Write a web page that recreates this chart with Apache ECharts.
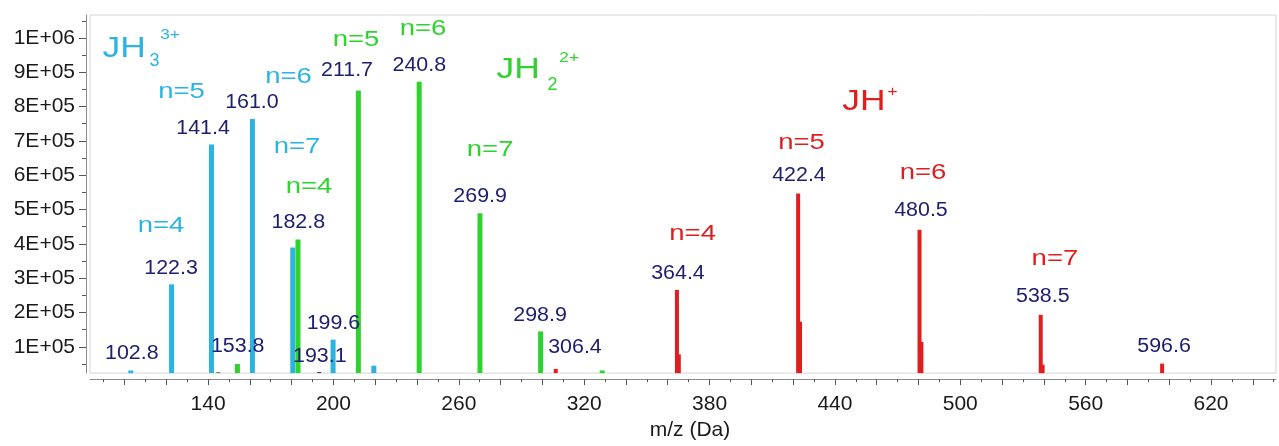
<!DOCTYPE html>
<html><head><meta charset="utf-8">
<script src="https://cdn.jsdelivr.net/npm/echarts@6/dist/echarts.min.js"></script>
<style>html,body{margin:0;padding:0;background:#fff}#c{width:1279px;height:446px}</style>
</head><body><div id="c"></div>
<script>
// ---------- DATA ----------
const jh3Mz  = [102.8, 122.3, 141.4, 161.0, 180.3, 199.6, 219.1];
const jh3Int = [31000, 282000, 689500, 763400, 389200, 120800, 45000];
const jh2Mz  = [153.8, 182.8, 211.7, 240.8, 269.9, 298.9, 328.4];
const jh2Int = [49800, 412800, 847000, 872600, 488800, 144700, 31000];
const jhMz   = [306.4, 364.4, 422.4, 480.5, 538.5, 596.6];
const jhInt  = [35500, 265800, 546500, 441300, 193000, 51000];
const jhIsoMz  = [365.3, 423.3, 481.4, 539.4];
const jhIsoInt = [78000, 173000, 114000, 48000];
const otherMz  = [144.9, 193.2];
const otherInt = [25500, 26500];

const xTickLabels = [140, 200, 260, 320, 380, 440, 500, 560, 620];
const yTickLabels = [100000, 200000, 300000, 400000, 500000, 600000, 700000, 800000, 900000, 1000000];

// peak m/z labels: [m/z, label centre m/z, label centre intensity]
const peakLabels = [
  [102.8, 103.5, 81600], [122.3, 122.3, 327500], [141.4, 137.6, 737000],
  [161.0, 161.0, 812300], [182.8, 183.2, 462600], [153.8, 154.2, 100100],
  [193.1, 193.5, 71700], [199.6, 200.0, 166900], [211.7, 206.5, 906200],
  [240.8, 241.1, 919800], [269.9, 270.2, 538800], [298.9, 298.9, 192500],
  [306.4, 315.6, 98700], [364.4, 364.9, 313300], [422.4, 422.8, 597700],
  [480.5, 481.2, 498100], [538.5, 539.5, 246500], [596.6, 597.5, 100100]
];
// charge-state labels: [text, series, m/z, intensity]
const nLabels = [
  ['n=4', 'b', 117.5, 452700], ['n=5', 'b', 127.3, 843600], ['n=6', 'b', 178.5, 887700], ['n=7', 'b', 182.6, 683000],
  ['n=4', 'g', 188.3, 566400], ['n=5', 'g', 210.8, 992900], ['n=6', 'g', 242.9, 1025600], ['n=7', 'g', 275.0, 674400],
  ['n=4', 'r', 371.9, 429900], ['n=5', 'r', 424.0, 692900], ['n=6', 'r', 482.2, 607600], ['n=7', 'r', 545.3, 356000]
];
// species labels: [text, series, part, m/z, intensity]
const speciesLabels = [
  ['JH', 'b', 'main', 99.8, 967800], ['3', 'b', 'sub', 114.4, 933000], ['3+', 'b', 'sup', 121.8, 1008000],
  ['JH', 'g', 'main', 288.4, 907600], ['2', 'g', 'sub', 304.9, 862000], ['2+', 'g', 'sup', 312.8, 941600],
  ['JH', 'r', 'main', 453.9, 813800], ['+', 'r', 'sup', 467.6, 842000]
];

// ---------- STYLE ----------
const C = { b: '#2bb4e2', g: '#2ed32e', r: '#e01e1e', navy: '#1f2170', txt: '#1a1a1a', axis: '#8c8c8c' };
const FONT = '"Liberation Sans", Arial, sans-serif';
const X_MIN = 83.5, X_MAX = 651.1, Y_MIN = 23300, Y_MAX = 1066800;

const majorX = [], minorX = [], majorY = [], minorY = [];
for (let v = 100; v <= 640; v += 20) majorX.push(v);
for (let v = 90; v <= 650; v += 20) minorX.push(v);
for (let v = 100000; v <= 1000000; v += 100000) majorY.push(v);
for (let v = 50000; v <= 1050000; v += 100000) minorY.push(v);

const zip = (a, b) => a.map((v, i) => [v, b[i]]);
const barSeries = (data, color, w) => ({
  type: 'bar', data, barWidth: w, barGap: '-100%', itemStyle: { color },
  xAxisIndex: 0, yAxisIndex: 0, silent: true, animation: false
});

const chart = echarts.init(document.getElementById('c'), null, { renderer: 'canvas' });
chart.setOption({
  animation: false,
  grid: { left: 90, right: 3, top: 15, bottom: 64, show: true, borderColor: '#d6d6d6', borderWidth: 1, containLabel: false },
  xAxis: [{
    type: 'value', min: X_MIN, max: X_MAX, position: 'bottom', offset: 6,
    axisLine: { show: true, lineStyle: { color: C.axis, width: 1 } },
    axisTick: { show: true, customValues: majorX, length: 6, lineStyle: { color: '#555' } },
    axisLabel: { customValues: xTickLabels, margin: 15, fontSize: 21, fontFamily: FONT, color: C.txt },
    splitLine: { show: false },
    name: 'm/z (Da)', nameLocation: 'middle', nameGap: 38,
    nameTextStyle: { fontSize: 21, fontFamily: FONT, color: C.txt, padding: [0, 0, 0, 14] }
  }, {
    type: 'value', min: X_MIN, max: X_MAX, position: 'bottom', offset: 6,
    axisLine: { show: false },
    axisTick: { show: true, customValues: minorX, length: 3, lineStyle: { color: '#555' } },
    axisLabel: { show: false }, splitLine: { show: false }
  }],
  yAxis: [{
    type: 'value', min: Y_MIN, max: Y_MAX, position: 'left', offset: 4,
    axisLine: { show: true, lineStyle: { color: C.axis, width: 1 } },
    axisTick: { show: true, customValues: majorY, length: 7, lineStyle: { color: '#555' } },
    axisLabel: {
      customValues: yTickLabels, margin: 11, fontSize: 21, fontFamily: FONT, color: C.txt,
      formatter: v => v >= 1000000 ? (v / 1000000) + 'E+06' : Math.round(v / 100000) + 'E+05'
    },
    splitLine: { show: false }
  }, {
    type: 'value', min: Y_MIN, max: Y_MAX, position: 'left', offset: 4,
    axisLine: { show: false },
    axisTick: { show: true, customValues: minorY, length: 4, lineStyle: { color: '#555' } },
    axisLabel: { show: false }, splitLine: { show: false }
  }],
  series: [
    barSeries(zip(jh3Mz, jh3Int), C.b, 5),
    barSeries(zip(jh2Mz, jh2Int), C.g, 5),
    barSeries(zip(jhMz, jhInt), C.r, 4),
    barSeries(zip(jhIsoMz, jhIsoInt), C.r, 4),
    barSeries(zip(otherMz, otherInt), '#444', 4)
  ]
});

// ---------- annotations (positioned through the chart's own scales) ----------
function px(x, y) { return chart.convertToPixel({ xAxisIndex: 0, yAxisIndex: 0 }, [x, y]); }
function txt(text, x, y, size, color, scaleX) {
  const p = px(x, y);
  return {
    type: 'text', x: p[0], y: p[1], scaleX: scaleX, z: 100,
    style: { text, fill: color, font: size + 'px ' + FONT, align: 'center', verticalAlign: 'middle',
             textAlign: 'center', textVerticalAlign: 'middle' }
  };
}
const g = [];
peakLabels.forEach(([mz, x, y]) => g.push(txt(mz.toFixed(1), x, y, 20, C.navy, 1.07)));
nLabels.forEach(([t, s, x, y]) => g.push(txt(t, x, y, 22, C[s], 1.25)));
speciesLabels.forEach(([t, s, part, x, y]) => {
  if (part === 'main') g.push(txt(t, x, y, 30, C[s], 1.18));
  else if (part === 'sub') g.push(txt(t, x, y, 18, C[s], 1.0));
  else g.push(txt(t, x, y, 15, C[s], 1.15));
});
chart.setOption({ graphic: g });
</script></body></html>
